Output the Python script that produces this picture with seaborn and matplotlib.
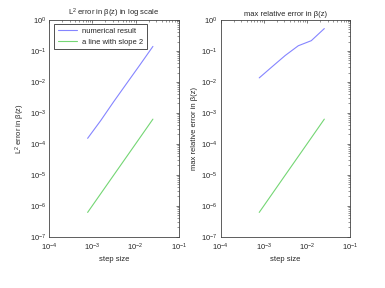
import numpy as np
import pandas as pd
import matplotlib
matplotlib.use("Agg")
import matplotlib.pyplot as plt
import seaborn as sns
from matplotlib.ticker import LogLocator, NullFormatter
from matplotlib.lines import Line2D

step = [7.8125e-4, 1.5625e-3, 3.125e-3, 6.25e-3, 1.25e-2, 2.5e-2]
l2_err = [1.5e-4, 5.6e-4, 2.3e-3, 9.0e-3, 3.5e-2, 0.139]
max_err = [0.0134, 0.031, 0.071, 0.146, 0.213, 0.524]
slope2 = [6.1e-7, 2.44e-6, 9.77e-6, 3.9e-5, 1.56e-4, 6.25e-4]

labels = ["numerical result", "a line with slope 2"]
blue = "#8585ff"
green = "#74d674"

sns.set_style("white")
plt.rcParams["font.family"] = ["Liberation Sans", "DejaVu Sans"]
plt.rcParams["mathtext.fontset"] = "custom"
plt.rcParams["mathtext.rm"] = "Liberation Sans"
plt.rcParams["mathtext.it"] = "Liberation Sans:italic"

fig = plt.figure(figsize=(3.85, 2.88), dpi=100)
ax1 = fig.add_axes([0.127, 0.178, 0.338, 0.753])
ax2 = fig.add_axes([0.573, 0.178, 0.337, 0.753])

df1 = pd.DataFrame({"step": step * 2, "err": l2_err + slope2,
                    "series": [labels[0]] * 6 + [labels[1]] * 6})
df2 = pd.DataFrame({"step": step * 2, "err": max_err + slope2,
                    "series": [labels[0]] * 6 + [labels[1]] * 6})

for ax, df, title, ylab in [
    (ax1, df1, r"L$^2$ error in β(z) in log scale", r"L$^2$ error in β(z)"),
    (ax2, df2, "max relative error in β(z)", "max relative error in β(z)"),
]:
    sns.lineplot(data=df, x="step", y="err", hue="series", ax=ax,
                 palette=[blue, green], linewidth=0.8, legend=False)
    ax.set_xscale("log")
    ax.set_yscale("log")
    ax.set_xlim(1e-4, 1e-1)
    ax.set_ylim(1e-7, 1e0)
    ax.set_title(title, fontsize=5.5, pad=3)
    ax.set_xlabel("step size", fontsize=5.5, labelpad=2)
    ax.set_ylabel(ylab, fontsize=5.5, labelpad=2)
    ax.xaxis.set_major_locator(LogLocator(base=10, numticks=10))
    ax.yaxis.set_major_locator(LogLocator(base=10, numticks=10))
    ax.xaxis.set_minor_locator(LogLocator(base=10, subs=np.arange(2, 10), numticks=20))
    ax.yaxis.set_minor_locator(LogLocator(base=10, subs=np.arange(2, 10), numticks=20))
    ax.xaxis.set_minor_formatter(NullFormatter())
    ax.yaxis.set_minor_formatter(NullFormatter())
    ax.tick_params(which="both", direction="in", top=True, right=True,
                   labelsize=5.5, color="#444444", pad=2)
    ax.tick_params(axis="x", which="major", pad=3.5)
    ax.tick_params(which="major", length=2.5, width=0.5)
    ax.tick_params(which="minor", length=1.3, width=0.4)
    for s in ax.spines.values():
        s.set_color("#444444")
        s.set_linewidth(0.6)

handles = [Line2D([], [], color=blue, lw=0.8), Line2D([], [], color=green, lw=0.8)]
leg = ax1.legend(handles, labels, loc="upper left", fontsize=5.5, frameon=True,
                 fancybox=False, edgecolor="#333333", framealpha=1, borderpad=0.45,
                 handlelength=2.6, handletextpad=0.6, labelspacing=0.45,
                 borderaxespad=0.0, bbox_to_anchor=(0.04, 0.98))
leg.get_frame().set_linewidth(0.6)

fig.savefig("out.png", dpi=100)
